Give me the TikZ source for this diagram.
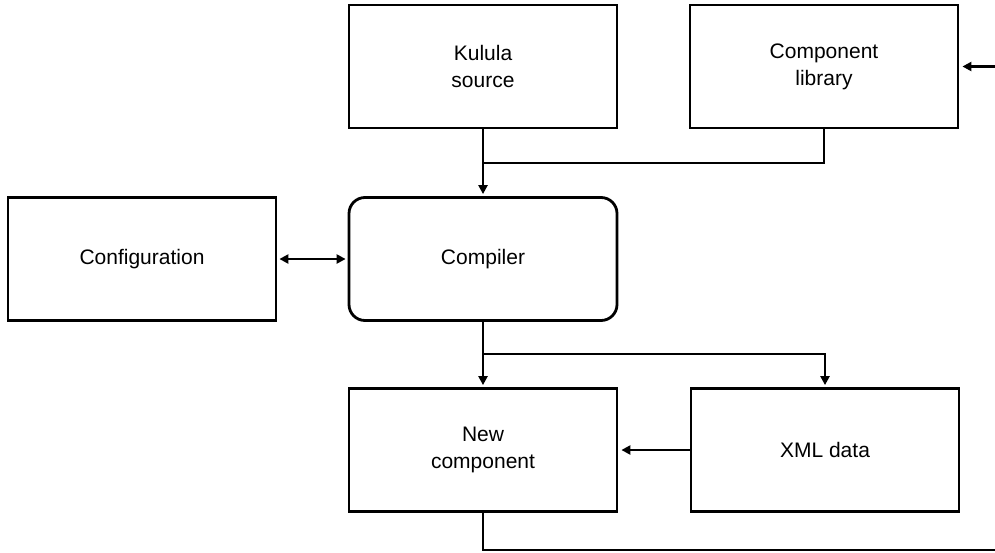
\documentclass[tikz,border=0pt]{standalone}
\usepackage{fontspec}
\setmainfont{Liberation Sans}
\usetikzlibrary{arrows.meta}
\begin{document}
\begin{tikzpicture}[x=1pt,y=-1pt,
  box/.style={draw,line width=2.8pt,minimum width=268pt,minimum height=123pt,
    inner sep=0pt,align=center,font=\fontsize{21}{27}\selectfont},
  roundbox/.style={box,rounded corners=16pt},
  conn/.style={line width=2.3pt},
  tip/.style={-{Triangle[length=9pt,width=9pt]}},
  dtip/.style={{Triangle[length=9pt,width=9pt]}-{Triangle[length=9pt,width=9pt]}}]
\useasboundingbox (0,0) rectangle (995,552);

% blocks
\node[box] (kulula) at (483,66.5) {Kulula\\source};
\node[box] (complib) at (824,66.5) {Component\\library};
\node[box] (config) at (142,259) {Configuration};
\node[roundbox] (compiler) at (483,259) {Compiler};
\node[box] (newcomp) at (483,450) {New\\component};
\node[box] (xml) at (825,450) {XML data};

% junction points and the return path along the right edge
\coordinate (j1) at (483,163);
\coordinate (j2) at (483,354);
\coordinate (loopbr) at (997,550);

% inputs to the compiler
\draw[conn,tip,shorten >=2pt] (kulula.south) -- (compiler.north);
\draw[conn] (complib.south) |- (j1);
\draw[conn,dtip,shorten >=2pt,shorten <=2pt] (config.east) -- (compiler.west);

% compiler outputs
\draw[conn,tip,shorten >=2pt] (compiler.south) -- (newcomp.north);
\draw[conn,tip,shorten >=2pt] (j2) -| (xml.north);
\draw[conn,tip,shorten >=3pt] (xml.west) -- (newcomp.east);

% new component returns to the library
\draw[conn,tip,shorten >=3pt] (newcomp.south) |- (loopbr) |- (complib.east);
\end{tikzpicture}
\end{document}
